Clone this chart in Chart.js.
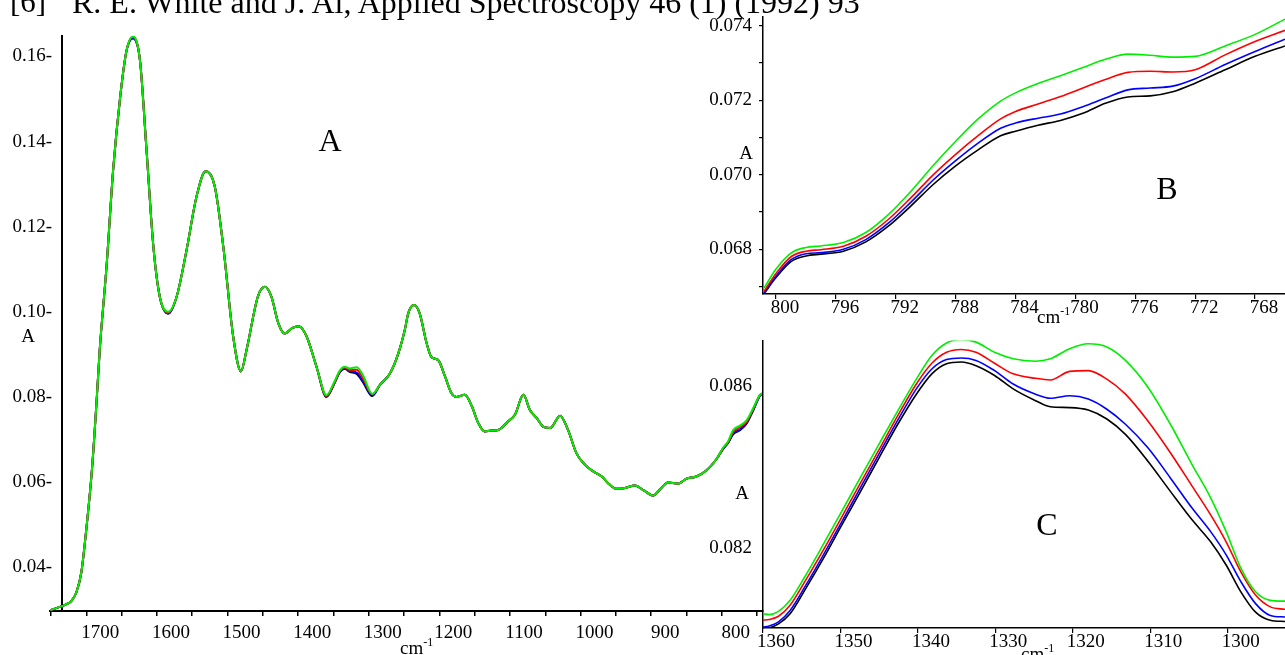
<!DOCTYPE html>
<html>
<head>
<meta charset="utf-8">
<script src="https://cdn.jsdelivr.net/npm/chart.js@4.4.0/dist/chart.umd.min.js"></script>
<style>
  html, body { margin: 0; padding: 0; background: #fff; }
  body { width: 1285px; height: 655px; position: relative; overflow: hidden;
         font-family: "Liberation Serif", "Times New Roman", serif; color: #000; }
  canvas { position: absolute; }
  .lbl { position: absolute; white-space: nowrap; line-height: 1; }
  .c { transform: translate(-50%, -50%); }
  .sup { position: relative; top: -8px; font-size: 12px; }
</style>
</head>
<body>
<canvas id="chA" width="770" height="655" style="left:0px;top:0px"></canvas>
<canvas id="chB" width="595" height="320" style="left:690px;top:0px"></canvas>
<canvas id="chC" width="595" height="335" style="left:690px;top:320px"></canvas>

<div class="lbl" style="left:10px;top:-14px;font-size:31px">[6]</div>
<div class="lbl" style="left:72px;top:-14px;font-size:32px">R. E. White and J. Al, Applied Spectroscopy 46 (1) (1992) 93</div>

<div class="lbl c" style="left:330px;top:140px;font-size:32px">A</div>
<div class="lbl c" style="left:1167px;top:188px;font-size:32px">B</div>
<div class="lbl c" style="left:1047px;top:524px;font-size:32px">C</div>

<div class="lbl c" style="left:28px;top:335px;font-size:19px">A</div>
<div class="lbl c" style="left:746px;top:152px;font-size:19px">A</div>
<div class="lbl c" style="left:742px;top:492px;font-size:19px">A</div>

<div class="lbl" style="left:400px;top:638px;font-size:19px">cm<span class="sup">-1</span></div>
<div class="lbl" style="left:1037px;top:307px;font-size:19px">cm<span class="sup">-1</span></div>
<div class="lbl" style="left:1021px;top:644px;font-size:19px">cm<span class="sup">-1</span></div>

<script>
// panel A: full spectrum, wavenumber (cm-1) and absorbance
const wnA = [
  1751, 1728, 1721, 1714, 1707, 1700, 1692, 1685, 1681, 1671,
  1662, 1652, 1643, 1634, 1624, 1615, 1605, 1596, 1584, 1572,
  1558, 1544, 1531, 1518, 1506, 1492, 1481, 1473, 1457, 1447,
  1438, 1428, 1419, 1408, 1399, 1388, 1374, 1360, 1348, 1341,
  1334, 1327, 1317, 1308, 1295, 1284, 1270, 1258, 1249, 1244,
  1236, 1228, 1218, 1211, 1202, 1192, 1183, 1176, 1164, 1154,
  1145, 1136, 1126, 1120, 1112, 1103, 1093, 1081, 1072, 1062,
  1052, 1043, 1029, 1018, 1006, 994, 982, 970, 959, 949,
  937, 923, 911, 897, 888, 876, 862, 850, 836, 822,
  808, 798, 791, 784, 775, 765, 756, 746, 742
];
const absA_black = [
  0.0299, 0.0313, 0.0321, 0.0341, 0.0388, 0.0489, 0.0629, 0.0801, 0.0910, 0.1114,
  0.1333, 0.1505, 0.1614, 0.1643, 0.1591, 0.1387, 0.1153, 0.1036, 0.0996, 0.1036,
  0.1145, 0.1270, 0.1330, 0.1294, 0.1153, 0.0942, 0.0860, 0.0911, 0.1036, 0.1059,
  0.1036, 0.0973, 0.0949, 0.0962, 0.0966, 0.0942, 0.0871, 0.0800, 0.0834, 0.0858,
  0.0866, 0.0859, 0.0854, 0.0834, 0.0802, 0.0829, 0.0855, 0.0903, 0.0957, 0.0997,
  0.1016, 0.0997, 0.0926, 0.0893, 0.0887, 0.0848, 0.0809, 0.0800, 0.0805, 0.0778,
  0.0739, 0.0719, 0.0721, 0.0721, 0.0727, 0.0742, 0.0758, 0.0805, 0.0770, 0.0750,
  0.0729, 0.0727, 0.0756, 0.0723, 0.0668, 0.0641, 0.0625, 0.0613, 0.0594, 0.0584,
  0.0586, 0.0592, 0.0581, 0.0568, 0.0582, 0.0599, 0.0596, 0.0608, 0.0613, 0.0627,
  0.0653, 0.0678, 0.0692, 0.0712, 0.0721, 0.0737, 0.0767, 0.0803, 0.0808
];
const absA_blue = [
  0.0299, 0.0313, 0.0321, 0.0341, 0.0388, 0.0489, 0.0629, 0.0801, 0.0910, 0.1114,
  0.1333, 0.1505, 0.1614, 0.1643, 0.1591, 0.1387, 0.1153, 0.1036, 0.0996, 0.1036,
  0.1145, 0.1270, 0.1330, 0.1294, 0.1153, 0.0942, 0.0860, 0.0911, 0.1036, 0.1059,
  0.1036, 0.0973, 0.0949, 0.0962, 0.0966, 0.0942, 0.0871, 0.0801, 0.0835, 0.0859,
  0.0867, 0.0861, 0.0857, 0.0837, 0.0804, 0.0829, 0.0855, 0.0903, 0.0957, 0.0997,
  0.1016, 0.0997, 0.0926, 0.0893, 0.0887, 0.0848, 0.0809, 0.0800, 0.0805, 0.0778,
  0.0739, 0.0719, 0.0721, 0.0721, 0.0727, 0.0742, 0.0758, 0.0805, 0.0770, 0.0750,
  0.0729, 0.0727, 0.0756, 0.0723, 0.0668, 0.0641, 0.0625, 0.0613, 0.0594, 0.0584,
  0.0586, 0.0592, 0.0581, 0.0568, 0.0582, 0.0599, 0.0596, 0.0608, 0.0613, 0.0627,
  0.0653, 0.0679, 0.0693, 0.0714, 0.0723, 0.0739, 0.0768, 0.0803, 0.0808
];
const absA_red = [
  0.0299, 0.0313, 0.0321, 0.0341, 0.0388, 0.0489, 0.0629, 0.0801, 0.0910, 0.1114,
  0.1333, 0.1505, 0.1614, 0.1646, 0.1591, 0.1387, 0.1153, 0.1036, 0.0998, 0.1036,
  0.1145, 0.1270, 0.1330, 0.1294, 0.1153, 0.0942, 0.0860, 0.0911, 0.1036, 0.1059,
  0.1036, 0.0973, 0.0949, 0.0962, 0.0966, 0.0942, 0.0871, 0.0802, 0.0836, 0.0860,
  0.0869, 0.0863, 0.0864, 0.0843, 0.0806, 0.0829, 0.0855, 0.0903, 0.0957, 0.0997,
  0.1016, 0.0997, 0.0926, 0.0893, 0.0887, 0.0848, 0.0809, 0.0800, 0.0805, 0.0778,
  0.0739, 0.0719, 0.0721, 0.0721, 0.0727, 0.0742, 0.0758, 0.0805, 0.0770, 0.0750,
  0.0729, 0.0727, 0.0756, 0.0723, 0.0668, 0.0641, 0.0625, 0.0613, 0.0594, 0.0584,
  0.0586, 0.0592, 0.0581, 0.0568, 0.0582, 0.0599, 0.0596, 0.0608, 0.0613, 0.0627,
  0.0653, 0.0680, 0.0694, 0.0717, 0.0728, 0.0741, 0.0770, 0.0804, 0.0808
];
const absA_green = [
  0.0299, 0.0313, 0.0321, 0.0341, 0.0388, 0.0489, 0.0629, 0.0801, 0.0910, 0.1114,
  0.1333, 0.1505, 0.1614, 0.1647, 0.1591, 0.1387, 0.1153, 0.1036, 0.1000, 0.1036,
  0.1145, 0.1270, 0.1330, 0.1294, 0.1153, 0.0942, 0.0860, 0.0911, 0.1036, 0.1059,
  0.1036, 0.0973, 0.0949, 0.0962, 0.0966, 0.0942, 0.0871, 0.0804, 0.0838, 0.0862,
  0.0871, 0.0867, 0.0870, 0.0850, 0.0807, 0.0829, 0.0855, 0.0903, 0.0957, 0.0997,
  0.1016, 0.0997, 0.0926, 0.0893, 0.0887, 0.0848, 0.0809, 0.0800, 0.0805, 0.0778,
  0.0739, 0.0719, 0.0721, 0.0721, 0.0727, 0.0742, 0.0758, 0.0805, 0.0770, 0.0750,
  0.0729, 0.0727, 0.0756, 0.0723, 0.0668, 0.0641, 0.0625, 0.0613, 0.0594, 0.0584,
  0.0586, 0.0592, 0.0581, 0.0568, 0.0582, 0.0599, 0.0596, 0.0608, 0.0613, 0.0627,
  0.0653, 0.0681, 0.0696, 0.0722, 0.0732, 0.0745, 0.0772, 0.0805, 0.0809
];

// panel B: 800 - 766 cm-1 zoom
const wnB = [800.8, 800, 799, 798, 797, 795.5, 794, 792.5, 791, 789.5, 788, 786.5, 785,
             784, 782.5, 781, 779.5, 778, 776.5, 775, 773.5, 772, 770, 768, 766];
const absB_black = [0.06681, 0.06724, 0.06767, 0.06782, 0.06787, 0.06795, 0.06820, 0.06862, 0.06916,
  0.06974, 0.07024, 0.07067, 0.07105, 0.07117, 0.07133, 0.07146, 0.07165, 0.07192, 0.07209,
  0.07212, 0.07223, 0.07246, 0.07282, 0.07318, 0.07346];
const absB_blue = [0.06683, 0.06728, 0.06772, 0.06788, 0.06791, 0.06800, 0.06826, 0.06870, 0.06926,
  0.06986, 0.07038, 0.07085, 0.07125, 0.07139, 0.07152, 0.07163, 0.07183, 0.07206, 0.07228,
  0.07233, 0.07238, 0.07258, 0.07296, 0.07331, 0.07364];
const absB_red = [0.06687, 0.06735, 0.06780, 0.06795, 0.06799, 0.06808, 0.06835, 0.06880, 0.06938,
  0.07000, 0.07055, 0.07105, 0.07150, 0.07170, 0.07190, 0.07210, 0.07233, 0.07256, 0.07275,
  0.07278, 0.07276, 0.07282, 0.07322, 0.07358, 0.07388];
const absB_green = [0.06696, 0.06747, 0.06790, 0.06805, 0.06809, 0.06818, 0.06845, 0.06893, 0.06955,
  0.07025, 0.07090, 0.07150, 0.07198, 0.07220, 0.07245, 0.07266, 0.07288, 0.07310, 0.07324,
  0.07321, 0.07316, 0.07318, 0.07346, 0.07377, 0.07418];

// panel C: 1360 - 1293 cm-1 zoom
const wnC = [1360, 1359.2, 1358, 1356.5, 1354.6, 1352.2, 1349.8, 1347.4, 1345, 1342.6, 1340.2,
  1338.2, 1336.3, 1334.4, 1332.5, 1330.1, 1327.7, 1324.8, 1322.9, 1320.4, 1318, 1315.6,
  1313.2, 1310.3, 1307.4, 1304.6, 1302.2, 1300.2, 1298.3, 1296.4, 1294.5, 1292.6];
const absC_black = [0.08002, 0.08004, 0.08014, 0.08039, 0.08097, 0.08175, 0.08258, 0.08340, 0.08423,
  0.08505, 0.08579, 0.08629, 0.08654, 0.08658, 0.08649, 0.08625, 0.08592, 0.08563, 0.08548,
  0.08546, 0.08540, 0.08518, 0.08480, 0.08414, 0.08340, 0.08270, 0.08216, 0.08159, 0.08093,
  0.08043, 0.08023, 0.08020];
const absC_blue = [0.08006, 0.08009, 0.08019, 0.08047, 0.08105, 0.08184, 0.08266, 0.08350, 0.08433,
  0.08515, 0.08592, 0.08641, 0.08664, 0.08668, 0.08662, 0.08637, 0.08604, 0.08579, 0.08569,
  0.08575, 0.08567, 0.08542, 0.08505, 0.08447, 0.08373, 0.08299, 0.08241, 0.08184, 0.08118,
  0.08064, 0.08035, 0.08031];
const absC_red = [0.08023, 0.08025, 0.08033, 0.08060, 0.08118, 0.08196, 0.08278, 0.08361, 0.08443,
  0.08526, 0.08604, 0.08655, 0.08682, 0.08689, 0.08682, 0.08655, 0.08629, 0.08618, 0.08614,
  0.08635, 0.08637, 0.08616, 0.08579, 0.08513, 0.08435, 0.08353, 0.08282, 0.08216, 0.08142,
  0.08085, 0.08056, 0.08050];
const absC_green = [0.08039, 0.08037, 0.08045, 0.08072, 0.08130, 0.08210, 0.08292, 0.08375, 0.08457,
  0.08538, 0.08616, 0.08674, 0.08705, 0.08713, 0.08707, 0.08682, 0.08666, 0.08660, 0.08666,
  0.08691, 0.08703, 0.08695, 0.08662, 0.08596, 0.08505, 0.08406, 0.08324, 0.08241, 0.08151,
  0.08093, 0.08072, 0.08070];

const GREEN = '#00ee00', RED = '#ff0000', BLUE = '#0000ff', BLACK = '#000000';
const FONT = { family: '"Liberation Serif", "Times New Roman", serif', size: 19, lineHeight: 1 };

function line(wn, vals, color, width) {
  return {
    data: wn.map((x, i) => ({ x: x, y: vals[i] })),
    borderColor: color,
    borderWidth: width,
    pointRadius: 0,
    fill: false,
    cubicInterpolationMode: 'monotone'
  };
}

function baseOptions(padding) {
  return {
    responsive: false,
    animation: false,
    events: [],
    layout: { padding: padding },
    plugins: { legend: { display: false }, tooltip: { enabled: false } }
  };
}

// A
const optA = baseOptions({ left: 50, right: 7.5, top: 36, bottom: 0 });
optA.scales = {
  x: {
    type: 'linear', reverse: true, min: 742.4, max: 1751.4, position: 'bottom',
    afterFit: s => { s.height = 44; },
    border: { color: '#000', width: 2 },
    grid: { drawOnChartArea: false, drawTicks: true, tickLength: 5, color: '#000', lineWidth: 1.5 },
    ticks: {
      stepSize: 50, includeBounds: false, autoSkip: false, maxRotation: 0, maxTicksLimit: 1000,
      labelOffset: 14, padding: 8, color: '#000', font: FONT,
      callback: v => (Math.round(v) % 100 === 0 ? String(Math.round(v)) : '')
    }
  },
  y: {
    // y axis sits at 1735 cm-1, a little inside the left end of the x axis
    type: 'linear', min: 0.0297, max: 0.1648, position: { x: 1735 },
    border: { color: '#000', width: 2 },
    grid: { display: false, drawTicks: false },
    ticks: {
      stepSize: 0.02, includeBounds: false, maxTicksLimit: 1000, color: '#000', font: FONT,
      callback: v => v.toFixed(2) + '-\u2002'
    }
  }
};
new Chart(document.getElementById('chA'), {
  type: 'line',
  data: { datasets: [
    line(wnA, absA_green, GREEN, 2),
    line(wnA, absA_red, RED, 2),
    line(wnA, absA_blue, BLUE, 2),
    line(wnA, absA_black, BLACK, 2)
  ] },
  options: optA
});

// B
const optB = baseOptions({ left: 0, right: 0, top: 15, bottom: 0 });
optB.scales = {
  x: {
    type: 'linear', reverse: true, min: 766.0, max: 800.87, position: 'bottom',
    afterFit: s => { s.height = 26; },
    border: { color: '#000', width: 1.5 },
    grid: { drawOnChartArea: false, drawTicks: true, tickLength: 5, color: '#000', lineWidth: 1.2 },
    ticks: {
      stepSize: 4, includeBounds: false, autoSkip: false, maxRotation: 0, maxTicksLimit: 1000,
      labelOffset: 9, padding: 0, color: '#000', font: FONT,
      callback: v => String(Math.round(v))
    }
  },
  y: {
    type: 'linear', min: 0.0668, max: 0.07425, position: 'left',
    afterFit: s => { s.width = 73; },
    border: { color: '#000', width: 1.5 },
    grid: { drawOnChartArea: false, drawTicks: true, tickLength: 4, color: '#000', lineWidth: 1.2 },
    ticks: {
      stepSize: 0.001, includeBounds: false, maxTicksLimit: 1000, padding: 7, color: '#000', font: FONT,
      callback: v => (Math.round(v * 1000) % 2 === 0 ? v.toFixed(3) : '')
    }
  }
};
new Chart(document.getElementById('chB'), {
  type: 'line',
  data: { datasets: [
    line(wnB, absB_green, GREEN, 1.6),
    line(wnB, absB_red, RED, 1.6),
    line(wnB, absB_blue, BLUE, 1.6),
    line(wnB, absB_black, BLACK, 1.6)
  ] },
  options: optB
});

// C
const optC = baseOptions({ left: 0, right: 0, top: 17, bottom: 0 });
optC.scales = {
  x: {
    type: 'linear', reverse: true, min: 1292.6, max: 1360, position: 'bottom',
    afterFit: s => { s.height = 27; },
    border: { color: '#000', width: 1.5 },
    grid: { drawOnChartArea: false, drawTicks: true, tickLength: 5, color: '#000', lineWidth: 1.2 },
    ticks: {
      stepSize: 10, includeBounds: false, autoSkip: false, maxRotation: 0, maxTicksLimit: 1000,
      labelOffset: 13, padding: 0, color: '#000', font: FONT,
      callback: v => String(Math.round(v))
    }
  },
  y: {
    type: 'linear', min: 0.08004, max: 0.08711, position: 'left',
    afterFit: s => { s.width = 73; },
    border: { color: '#000', width: 1.5 },
    grid: { drawOnChartArea: false, drawTicks: false },
    ticks: {
      stepSize: 0.002, includeBounds: false, maxTicksLimit: 1000, padding: 11, color: '#000', font: FONT,
      callback: v => ((Math.round(v * 1000) - 82) % 4 === 0 ? v.toFixed(3) : '')
    }
  }
};
new Chart(document.getElementById('chC'), {
  type: 'line',
  data: { datasets: [
    line(wnC, absC_green, GREEN, 1.6),
    line(wnC, absC_red, RED, 1.6),
    line(wnC, absC_blue, BLUE, 1.6),
    line(wnC, absC_black, BLACK, 1.6)
  ] },
  options: optC
});
</script>
</body>
</html>
